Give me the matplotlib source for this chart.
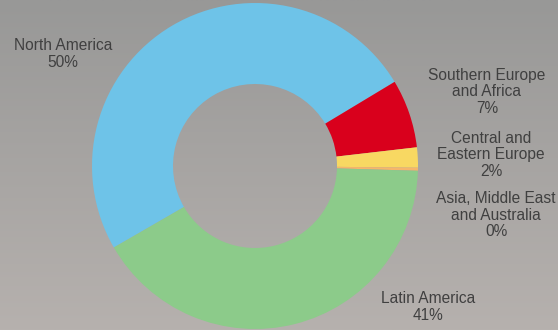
import numpy as np
import matplotlib
matplotlib.use("Agg")
import matplotlib.pyplot as plt
from matplotlib.colors import LinearSegmentedColormap

# sales share by region (percent)
regions = ["North America", "Southern Europe\nand Africa", "Central and\nEastern Europe",
           "Asia, Middle East\nand Australia", "Latin America"]
shares = [49.7, 6.8, 2.0, 0.3, 41.2]
colors = ["#6ec3e8", "#d9001c", "#f8d862", "#f5b66b", "#8ccb8a"]

# label anchor points, in pixels from the top-left corner
label_xy = [(63, 54), (487, 92), (491, 155), (496, 215), (428, 307)]

W, H = 558, 330
fig = plt.figure(figsize=(W / 100, H / 100), dpi=100)
ax = fig.add_axes([0, 0, 1, 1])
ax.set_xlim(0, W)
ax.set_ylim(0, H)
ax.set_aspect("equal")
ax.axis("off")

# vertical grey gradient behind everything (shows through the hole too)
bg = LinearSegmentedColormap.from_list("bg", ["#b6b1ae", "#989897"])
ax.imshow(np.linspace(0, 1, 256)[:, None], cmap=bg, origin="lower",
          extent=(0, W, 0, H), aspect="auto", zorder=0)

R = 163
ax.pie(shares, colors=colors, center=(255, H - 166), radius=R,
       startangle=210, counterclock=False, frame=True,
       wedgeprops=dict(width=R - 82, edgecolor="none", zorder=2))
ax.set_xlim(0, W)
ax.set_ylim(0, H)
ax.axis("off")

for name, val, (x, y) in zip(regions, shares, label_xy):
    ax.text(x, H - y, f"{name}\n{round(val)}%", ha="center", va="center",
            fontsize=11.2, linespacing=1.15, color="#404040",
            family="Liberation Sans", zorder=3)

fig.savefig("out.png", dpi=100)
